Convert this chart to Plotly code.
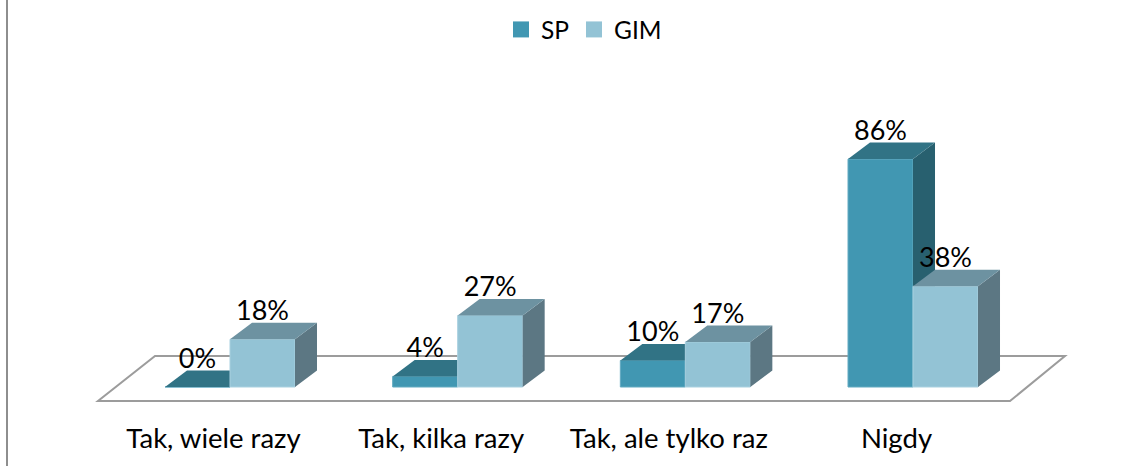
import plotly.graph_objects as go

categories = ["Tak, wiele razy", "Tak, kilka razy", "Tak, ale tylko raz", "Nigdy"]
sp_values = [0, 4, 10, 86]
gim_values = [18, 27, 17, 38]
series_names = ["SP", "GIM"]

W, H = 1145, 466
PLOT_BOTTOM = 415
BASE_PX, PX_PER_PCT = 387, 2.65
CENTER0_PX, STEP_PX = 230, 227.67
BAR_W = 65 / STEP_PX
DX = 22 / STEP_PX
DY = 16.5 / PX_PER_PCT
LABEL_SHIFT = 16.5 / STEP_PX
LABEL_DROP = 4 / PX_PER_PCT
FONT = "Lato"


def faces(values, lefts):
    side_x, side_y, top_x, top_y = [], [], [], []
    for x0, v in zip(lefts, values):
        x1 = x0 + BAR_W
        side_x += [x1, x1 + DX, x1 + DX, x1, x1, None]
        side_y += [0, DY, v + DY, v, 0, None]
        top_x += [x0, x0 + DX, x1 + DX, x1, x0, None]
        top_y += [v, v + DY, v + DY, v, v, None]
    return side_x, side_y, top_x, top_y


def add_series(fig, name, values, lefts, front, top, side, edge, axes):
    sx, sy, tx, ty = faces(values, lefts)
    common = dict(mode="lines", line=dict(width=0), fill="toself", hoverinfo="skip",
                  showlegend=False, xaxis=axes[0], yaxis=axes[1])
    fig.add_trace(go.Bar(x=[l + BAR_W / 2 for l in lefts], y=values, width=BAR_W, name=name,
                         marker=dict(color=front, line=dict(color=edge, width=1)),
                         showlegend=False, xaxis=axes[0], yaxis=axes[1]))
    fig.add_trace(go.Scatter(x=sx, y=sy, fillcolor=side, **common))
    fig.add_trace(go.Scatter(x=tx, y=ty, fillcolor=top, **common))


fig = go.Figure()
idx = list(range(len(categories)))
add_series(fig, series_names[0], sp_values, [i - BAR_W for i in idx],
           "#4197b2", "#317385", "#28606f", "#62aac1", ("x", "y"))
add_series(fig, series_names[1], gim_values, idx,
           "#93c3d5", "#6d92a1", "#5c7783", "#a9d1e0", ("x2", "y2"))

label_x = [i - BAR_W / 2 for i in idx] + [i + BAR_W / 2 for i in idx]
label_y = [v + DY - LABEL_DROP for v in sp_values + gim_values]
label_t = [f"{v}%" for v in sp_values + gim_values]
fig.add_trace(go.Scatter(x=label_x, y=label_y, text=label_t, mode="text",
                         textposition="top center", cliponaxis=False,
                         textfont=dict(family=FONT, size=27, color="#000000"),
                         showlegend=False, hoverinfo="skip", xaxis="x2", yaxis="y2"))

fig.add_trace(go.Scatter(x=[None], y=[None], mode="markers", name=series_names[0],
                         marker=dict(symbol="square", size=16, color="#4197b2")))
fig.add_trace(go.Scatter(x=[None], y=[None], mode="markers", name=series_names[1],
                         marker=dict(symbol="square", size=16, color="#93c3d5")))

xr = [-CENTER0_PX / STEP_PX, (W - CENTER0_PX) / STEP_PX]
yr = [(BASE_PX - PLOT_BOTTOM) / PX_PER_PCT, BASE_PX / PX_PER_PCT]
floor_front_y = -14 / PX_PER_PCT
floor_back_y = 31 / PX_PER_PCT
to_x = lambda px: (px - CENTER0_PX) / STEP_PX

fig.update_layout(
    width=W, height=H, margin=dict(l=0, r=0, t=0, b=H - PLOT_BOTTOM),
    paper_bgcolor="white", plot_bgcolor="white", barmode="overlay",
    font=dict(family=FONT, color="#000000"),
    legend=dict(orientation="h", x=584 / W, xanchor="center", y=1 - 7 / PLOT_BOTTOM, yanchor="top",
                font=dict(family=FONT, size=24.5), bgcolor="rgba(0,0,0,0)", itemclick=False),
    xaxis=dict(range=xr, tickmode="array", tickvals=[i - LABEL_SHIFT for i in idx], ticktext=categories,
               showgrid=False, zeroline=False, showline=False, ticks="", ticklabelstandoff=4,
               tickfont=dict(family=FONT, size=27.5, color="#000000")),
    yaxis=dict(range=yr, visible=False),
    xaxis2=dict(range=xr, overlaying="x", visible=False),
    yaxis2=dict(range=yr, overlaying="y", visible=False),
    shapes=[
        dict(type="path", xref="x", yref="y", layer="below",
             path=f"M{to_x(98)},{floor_front_y} L{to_x(1010)},{floor_front_y} "
                  f"L{to_x(1065)},{floor_back_y} L{to_x(155)},{floor_back_y} Z",
             line=dict(color="#9c9c9c", width=2), fillcolor="white"),
        dict(type="line", xref="paper", yref="paper", x0=7 / W, x1=7 / W, y0=-(H - PLOT_BOTTOM) / PLOT_BOTTOM, y1=1,
             line=dict(color="#8e8e8e", width=2)),
    ],
)

fig.write_html("out.html", post_script="document.body.style.margin='0';document.body.style.overflow='hidden';",
               config=dict(displayModeBar=False))
